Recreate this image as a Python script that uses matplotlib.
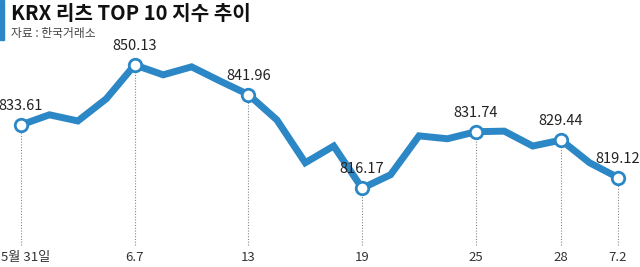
import numpy as np
import matplotlib
matplotlib.use("Agg")
from matplotlib import pyplot as plt
from matplotlib.patches import Rectangle

plt.rcParams['font.family'] = ['Noto Sans CJK KR', 'DejaVu Sans']

# data
values = [833.61, 836.4, 834.7, 840.8, 850.13, 847.4, 849.6, 845.7, 841.96,
          835.0, 823.2, 827.8, 816.17, 819.9, 830.6, 829.8, 831.74, 831.9,
          827.8, 829.44, 823.2, 819.12]
label_idx = [0, 4, 8, 12, 16, 19, 21]
tick_labels = ['5월 31일', '6.7', '13', '19', '25', '28', '7.2']

blue = '#2b87c5'
x = np.arange(len(values))

fig = plt.figure(figsize=(6.4, 2.67), dpi=100)
ax = fig.add_axes([0, 0, 1, 1])
ax.set_xlim(-0.739, 21.774)
ax.set_ylim(794.5, 868.0)
ax.axis('off')

# dotted guides
for i in label_idx:
    ax.plot([i, i], [800.6, values[i]], color='#888888', lw=0.8, ls=(0, (1, 1.5)), zorder=1)

ax.plot(x, values, color=blue, lw=5, solid_joinstyle='miter', zorder=2)
ax.plot(x[label_idx], [values[i] for i in label_idx], 'o', ms=9, mfc='white',
        mec=blue, mew=2, zorder=3)

for i, lab in zip(label_idx, tick_labels):
    ax.text(i, values[i] + 3.3, f'{values[i]:.2f}', ha='center', va='bottom',
            fontsize=10.5, color='#222222')
    if i == label_idx[0]:
        # first label hugs the left edge
        ax.text(ax.get_xlim()[0] + 0.02, 797.0, lab, ha='left', va='center',
                fontsize=9.5, color='#333333')
    else:
        ax.text(i, 797.0, lab, ha='center', va='center', fontsize=9.5, color='#333333')

# header
fig.add_artist(Rectangle((0, 1 - 40 / 267), 4 / 640, 40 / 267, transform=fig.transFigure,
                         color=blue))
fig.text(11 / 640, 1 - 14 / 267, 'KRX 리츠 TOP 10 지수 추이', fontsize=14.5,
         fontweight='bold', va='center', ha='left', color='#111111')
fig.text(11 / 640, 1 - 33 / 267, '자료 : 한국거래소', fontsize=8.5, va='center',
         ha='left', color='#444444')

fig.savefig('out.png', dpi=100)
